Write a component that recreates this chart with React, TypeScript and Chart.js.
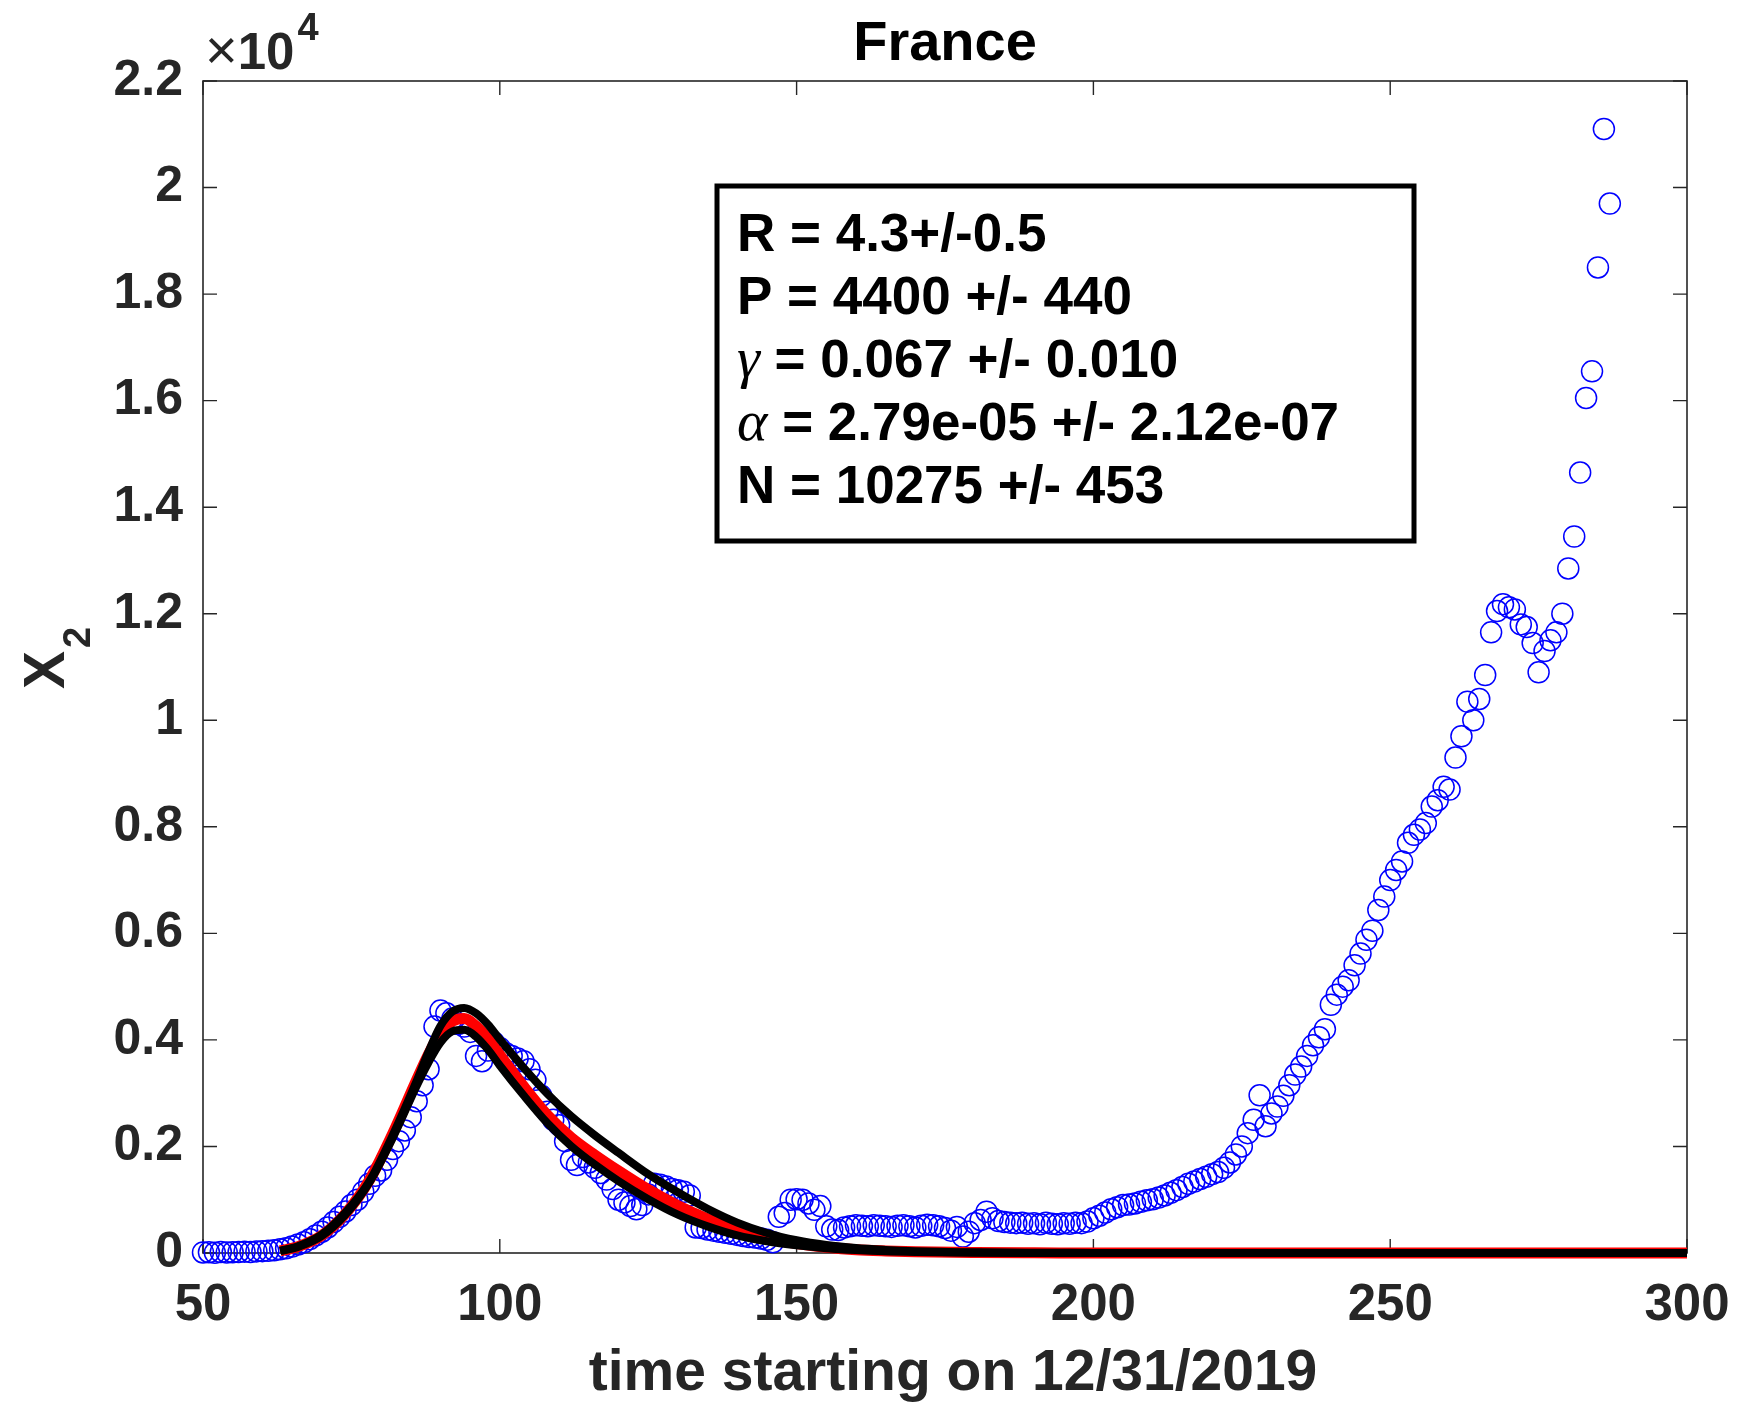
import { useEffect, useRef } from "react";
import { Chart, registerables } from "chart.js";

Chart.register(...registerables);

// ---------- data ----------
const FIRST_DAY = 50;
// observed X2 values, one per day starting at FIRST_DAY
const x2Values = [
  10, 15, 5, 20, 10, 15, 20, 25, 20, 30,
  35, 40, 50, 70, 90, 120, 160, 200, 260, 330,
  400, 480, 580, 680, 780, 900, 1000, 1150, 1300, 1450,
  1550, 1750, 1950, 2100, 2300, 2550, 2850, 3150, 3450, 4250,
  4550, 4500, 4400, 4300, 4250, 4150, 3700, 3600, 3800, 3950,
  3850, 3750, 3700, 3650, 3600, 3450, 3250, 2950, 2650, 2500,
  2400, 2100, 1750, 1650, 1800, 1700, 1600, 1500, 1380, 1200,
  1000, 950, 880, 820, 900, 1100, 1300, 1280, 1250, 1200,
  1180, 1150, 1080, 480, 470, 440, 420, 400, 380, 360,
  340, 320, 300, 290, 270, 250, 200, 680, 750, 1000,
  1010, 1000, 930, 810, 880, 500, 440, 430, 480, 500,
  520, 510, 500, 520, 510, 500, 490, 510, 520, 500,
  480, 510, 530, 520, 500, 470, 420, 490, 310, 400,
  560, 620, 775, 650, 600, 580, 570, 560, 570, 550,
  560, 540, 570, 550, 540, 560, 550, 570, 560, 590,
  650, 700, 760, 820, 860, 900, 910, 930, 960, 990,
  1010, 1040, 1080, 1130, 1180, 1240, 1300, 1340, 1390, 1430,
  1480, 1520, 1600, 1700, 1850, 2000, 2250, 2500, 2960, 2380,
  2620, 2750, 2950, 3150, 3350, 3500, 3700, 3900, 4050, 4200,
  4660, 4850, 5000, 5120, 5400, 5620, 5880, 6050, 6440, 6690,
  7000, 7190, 7350, 7700, 7850, 7950, 8070, 8380, 8500, 8750,
  8700, 9300, 9700, 10350, 10000, 10400, 10850, 11650, 12050, 12180,
  12120, 12080, 11800, 11750, 11450, 10900, 11300, 11500, 11650, 12000,
  12850, 13450, 14650, 16050, 16550, 18500, 21100, 19700,
];

// model fit curves (read at these days)
const fitDays = [63, 66, 70, 74, 78, 82, 86, 88, 90, 92, 94, 96, 98, 100, 104, 108, 112, 116, 120, 125, 130, 135, 140, 145, 150, 155, 160, 165, 170, 180, 190, 200, 250, 300];
const fitRed = [40, 120, 330, 740, 1360, 2250, 3250, 3730, 4140, 4350, 4400, 4260, 4020, 3720, 3130, 2590, 2170, 1840, 1540, 1190, 890, 640, 434, 280, 175, 108, 62, 38, 22, 8, 3, 1, 0, 0];
const fitUpper = [40, 125, 345, 760, 1340, 2220, 3230, 3780, 4260, 4530, 4600, 4500, 4290, 4010, 3480, 2990, 2570, 2210, 1880, 1480, 1140, 830, 570, 375, 240, 150, 92, 58, 35, 13, 5, 2, 0, 0];
const fitLower = [40, 115, 320, 720, 1320, 2170, 3140, 3580, 3950, 4160, 4190, 4060, 3820, 3520, 2960, 2440, 2010, 1660, 1350, 1010, 720, 500, 330, 220, 145, 90, 55, 32, 20, 7, 2, 1, 0, 0];

const xTickValues = [50, 100, 150, 200, 250, 300];
const yTickLabels = ["0", "0.2", "0.4", "0.6", "0.8", "1", "1.2", "1.4", "1.6", "1.8", "2", "2.2"];
const yStep = 2000;

const titleText = "France";
const xAxisTitle = "time starting on 12/31/2019";
const boxLines = [
  { sym: "", rest: "R = 4.3+/-0.5" },
  { sym: "", rest: "P = 4400 +/- 440" },
  { sym: "\u03b3", rest: " = 0.067 +/- 0.010" },
  { sym: "\u03b1", rest: " = 2.79e-05 +/- 2.12e-07" },
  { sym: "", rest: "N = 10275 +/- 453" },
];

const SANS = '"Liberation Sans", Arial, Helvetica, sans-serif';
const SERIF = '"Liberation Serif", "Times New Roman", serif';
const AXIS_COLOR = "#262626";

const overlayPlugin = {
  id: "matlabOverlay",
  beforeDatasetsDraw(chart: any) {
    const { ctx, chartArea } = chart;
    const { left, right, top, bottom } = chartArea;
    const xs = chart.scales.x;
    const ys = chart.scales.y;
    ctx.save();
    ctx.strokeStyle = AXIS_COLOR;
    ctx.lineWidth = 1.6;
    ctx.strokeRect(left, top, right - left, bottom - top);
    const tl = 14;
    ctx.lineWidth = 1.4;
    ctx.beginPath();
    xTickValues.forEach((v) => {
      const px = xs.getPixelForValue(v);
      ctx.moveTo(px, bottom);
      ctx.lineTo(px, bottom - tl);
      ctx.moveTo(px, top);
      ctx.lineTo(px, top + tl);
    });
    yTickLabels.forEach((_, i) => {
      const py = ys.getPixelForValue(i * yStep);
      ctx.moveTo(left, py);
      ctx.lineTo(left + tl, py);
      ctx.moveTo(right, py);
      ctx.lineTo(right - tl, py);
    });
    ctx.stroke();
    ctx.restore();
  },
  afterDatasetsDraw(chart: any) {
    const { ctx, chartArea } = chart;
    const { left, right } = chartArea;
    ctx.save();
    ctx.fillStyle = "#000";
    // title
    ctx.textAlign = "center";
    ctx.textBaseline = "alphabetic";
    ctx.font = `bold 56px ${SANS}`;
    ctx.fillText(titleText, (left + right) / 2, 60);
    // x label
    ctx.fillStyle = AXIS_COLOR;
    ctx.font = `bold 57px ${SANS}`;
    ctx.fillText(xAxisTitle, (left + right) / 2 + 8, 1390);
    // y label X_2
    ctx.save();
    ctx.translate(64, 689);
    ctx.rotate(-Math.PI / 2);
    ctx.textAlign = "left";
    ctx.font = `bold 57px ${SANS}`;
    ctx.fillText("X", 0, 0);
    const wX = ctx.measureText("X").width;
    ctx.font = `bold 38px ${SANS}`;
    ctx.fillText("2", wX + 3, 26);
    ctx.restore();
    // x10^4 multiplier
    ctx.textAlign = "left";
    ctx.font = `56px ${SANS}`;
    ctx.fillText("\u00d7", left + 2, 69);
    const wTimes = ctx.measureText("\u00d7").width;
    ctx.font = `bold 51px ${SANS}`;
    ctx.fillText("10", left + 2 + wTimes, 69);
    const w10 = ctx.measureText("10").width;
    ctx.font = `bold 38px ${SANS}`;
    ctx.fillText("4", left + 2 + wTimes + w10 + 3, 40);
    // text box
    const bx = 717, by = 186, bw = 697, bh = 355;
    ctx.fillStyle = "#fff";
    ctx.fillRect(bx, by, bw, bh);
    ctx.strokeStyle = "#000";
    ctx.lineWidth = 5;
    ctx.strokeRect(bx, by, bw, bh);
    ctx.fillStyle = "#000";
    const baselines = [251, 314, 377, 440, 503];
    boxLines.forEach((ln, i) => {
      let x = 737;
      if (ln.sym) {
        ctx.font = `italic 58px ${SERIF}`;
        ctx.fillText(ln.sym, x, baselines[i]);
        x += ctx.measureText(ln.sym).width;
      }
      ctx.font = `bold 53px ${SANS}`;
      ctx.fillText(ln.rest, x, baselines[i]);
    });
    ctx.restore();
  },
};

export default function App() {
  const canvasRef = useRef<HTMLCanvasElement | null>(null);

  useEffect(() => {
    if (!canvasRef.current) return;
    const scatterData = x2Values.map((v, i) => ({ x: FIRST_DAY + i, y: v }));
    const toPts = (arr: number[]) => fitDays.map((d, i) => ({ x: d, y: arr[i] }));
    const chart = new Chart(canvasRef.current, {
      type: "scatter",
      data: {
        datasets: [
          {
            type: "line",
            label: "upper",
            data: toPts(fitUpper),
            borderColor: "#000",
            borderWidth: 8,
            pointRadius: 0,
            cubicInterpolationMode: "monotone",
            clip: false,
            order: 1,
          } as any,
          {
            type: "line",
            label: "lower",
            data: toPts(fitLower),
            borderColor: "#000",
            borderWidth: 8,
            pointRadius: 0,
            cubicInterpolationMode: "monotone",
            clip: false,
            order: 1,
          } as any,
          {
            type: "line",
            label: "fit",
            data: toPts(fitRed),
            borderColor: "#ff0000",
            borderWidth: 11,
            pointRadius: 0,
            cubicInterpolationMode: "monotone",
            clip: false,
            order: 2,
          } as any,
          {
            type: "scatter",
            label: "data",
            data: scatterData,
            pointStyle: "circle",
            pointRadius: 10.5,
            pointBorderWidth: 1.5,
            borderColor: "rgb(0,0,255)",
            backgroundColor: "rgba(0,0,0,0)",
            clip: false,
            order: 3,
          } as any,
        ],
      },
      options: {
        responsive: false,
        animation: false,
        devicePixelRatio: 1,
        layout: { padding: { left: 8, top: 81, right: 50, bottom: 0 } },
        plugins: {
          legend: { display: false },
          tooltip: { enabled: false },
        },
        scales: {
          x: {
            type: "linear",
            min: 50,
            max: 300,
            grid: { display: false, drawTicks: false },
            border: { display: false },
            afterFit: (s: any) => {
              s.height = 153;
              s.paddingLeft = 0;
              s.paddingRight = 0;
            },
            ticks: {
              stepSize: 50,
              autoSkip: false,
              maxRotation: 0,
              padding: 22,
              color: AXIS_COLOR,
              font: { family: SANS, size: 51, weight: "bold" },
              callback: (v: any) => (xTickValues.includes(Number(v)) ? String(v) : ""),
            },
          },
          y: {
            type: "linear",
            min: 0,
            max: 22000,
            grid: { display: false, drawTicks: false },
            border: { display: false },
            afterFit: (s: any) => {
              s.width = 195;
              s.paddingTop = 0;
              s.paddingBottom = 0;
            },
            ticks: {
              stepSize: yStep,
              autoSkip: false,
              padding: 20,
              color: AXIS_COLOR,
              font: { family: SANS, size: 50, weight: "bold" },
              callback: (v: any) => {
                const idx = Math.round(Number(v) / yStep);
                return yTickLabels[idx] ?? "";
              },
            },
          },
        },
      } as any,
      plugins: [overlayPlugin],
    });
    return () => chart.destroy();
  }, []);

  return (
    <div style={{ position: "absolute", left: 0, top: 0, width: 1737, height: 1406, background: "#fff" }}>
      <canvas ref={canvasRef} width={1737} height={1406} style={{ display: "block", width: 1737, height: 1406 }} />
    </div>
  );
}
